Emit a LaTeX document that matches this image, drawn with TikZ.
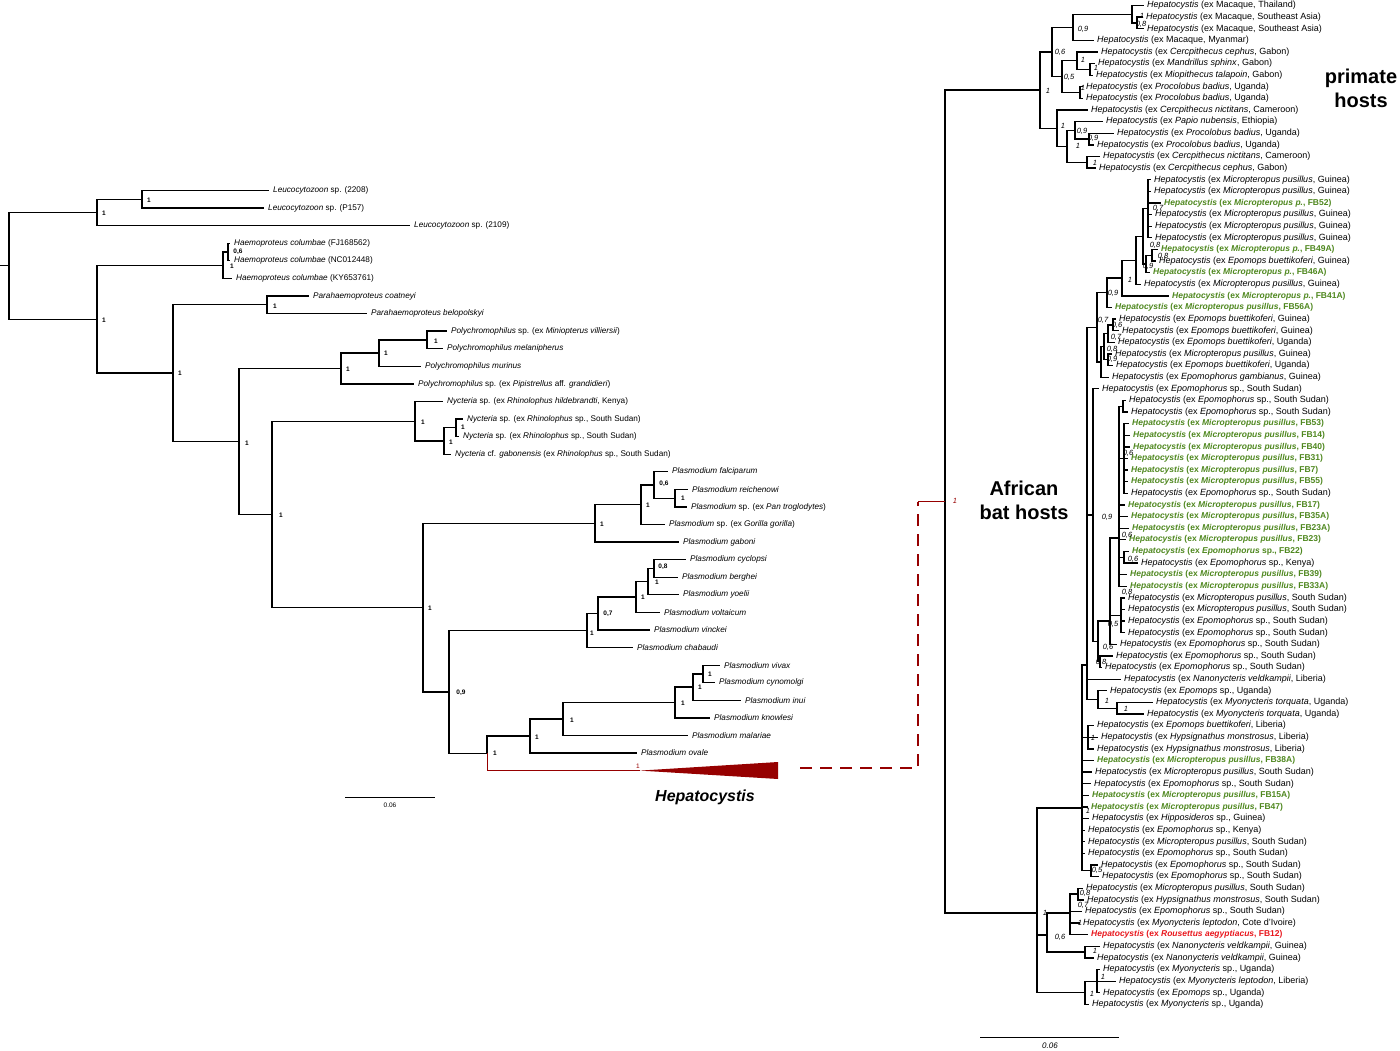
\documentclass[tikz,border=0pt]{standalone}
\usepackage{fontspec}
\setmainfont{Liberation Sans}
\usetikzlibrary{calc}
\definecolor{hepred}{RGB}{150,0,0}
\definecolor{leafn}{RGB}{0,0,0}
\definecolor{leafg}{RGB}{78,135,30}
\definecolor{leafr}{RGB}{232,22,28}
\newcommand\leaffontn{\fontsize{9}{10}\selectfont}
\newcommand\leaffontg{\fontsize{8.5}{10}\selectfont\bfseries}
\newcommand\leaffontr{\fontsize{8.5}{10}\selectfont\bfseries}
% clade: name, x, children (first ... last); y halfway between first and last child
\newcommand\clade[3]{%
  \foreach \ch [count=\k] in {#3}{\ifnum\k=1 \xdef\cfirst{\ch}\fi\xdef\clast{\ch}}%
  \path let \p1=($(\cfirst)!.5!(\clast)$) in coordinate (#1) at (#2pt,\y1);%
  \foreach \ch in {#3}{\draw[br] (#1) |- (\ch);}}
% same, with the y given
\newcommand\cladey[4]{%
  \coordinate (#1) at (#2,#3);%
  \foreach \ch in {#4}{\draw[br] (#1) |- (\ch);}}

\begin{document}
\begin{tikzpicture}[x=1pt,y=-1pt,
    br/.style={line width=1.3pt},
    lleaf/.style={anchor=west,inner xsep=4pt,inner ysep=1pt,font=\fontsize{8.2}{9}\selectfont},
    rleaf/.style={anchor=west,inner xsep=3pt,inner ysep=1pt},
    lsup/.style={inner sep=0pt,font=\fontsize{6.5}{7}\selectfont\bfseries},
    rsup/.style={inner sep=0pt,font=\fontsize{7.5}{8}\selectfont\itshape},
    big/.style={align=center,font=\fontsize{20}{24}\selectfont\bfseries},
    dlink/.style={hepred,line width=2.2pt,dash pattern=on 12pt off 8pt}]
  \useasboundingbox (0,0) rectangle (1400,1051);

  %% left tree
  \foreach \tx/\txt [count=\i from 0] in
  {
    269/{\textit{Leucocytozoon} sp. (2208)},
    264/{\textit{Leucocytozoon} sp. (P157)},
    410/{\textit{Leucocytozoon} sp. (2109)},
    230/{\textit{Haemoproteus columbae} (FJ168562)},
    230/{\textit{Haemoproteus columbae} (NC012448)},
    232/{\textit{Haemoproteus columbae} (KY653761)},
    309/{\textit{Parahaemoproteus coatneyi}},
    367/{\textit{Parahaemoproteus belopolskyi}},
    447/{\textit{Polychromophilus} sp. (ex \textit{Miniopterus villiersii})},
    443/{\textit{Polychromophilus melanipherus}},
    421/{\textit{Polychromophilus murinus}},
    414/{\textit{Polychromophilus} sp. (ex \textit{Pipistrellus} aff. \textit{grandidieri})},
    443/{\textit{Nycteria} sp. (ex \textit{Rhinolophus hildebrandti}, Kenya)},
    463/{\textit{Nycteria} sp. (ex \textit{Rhinolophus} sp., South Sudan)},
    459/{\textit{Nycteria} sp. (ex \textit{Rhinolophus} sp., South Sudan)},
    451/{\textit{Nycteria} cf. \textit{gabonensis} (ex \textit{Rhinolophus} sp., South Sudan)},
    668/{\textit{Plasmodium falciparum}},
    688/{\textit{Plasmodium reichenowi}},
    687/{\textit{Plasmodium} sp. (ex \textit{Pan troglodytes})},
    665/{\textit{Plasmodium} sp. (ex \textit{Gorilla gorilla})},
    679/{\textit{Plasmodium gaboni}},
    686/{\textit{Plasmodium cyclopsi}},
    678/{\textit{Plasmodium berghei}},
    679/{\textit{Plasmodium yoelii}},
    660/{\textit{Plasmodium voltaicum}},
    650/{\textit{Plasmodium vinckei}},
    633/{\textit{Plasmodium chabaudi}},
    720/{\textit{Plasmodium vivax}},
    715/{\textit{Plasmodium cynomolgi}},
    741/{\textit{Plasmodium inui}},
    710/{\textit{Plasmodium knowlesi}},
    688/{\textit{Plasmodium malariae}},
    637/{\textit{Plasmodium ovale}}}
  {
    \pgfmathsetmacro\yy{190.5+17.58*\i}
    \node[lleaf] (L\i) at (\tx,\yy) {\txt};
  }
  \coordinate (hep) at (640,770.6);

  \clade{la}{142}{L0,L1}
  \clade{lb}{97}{la,L2}
  \clade{hi}{228}{L3,L4}
  \clade{ho}{223}{hi,L5}
  \clade{pa}{267}{L6,L7}
  \clade{pc}{427}{L8,L9}
  \clade{pb}{379}{pc,L10}
  \clade{pd}{341}{pb,L11}
  \clade{nyc}{456}{L13,L14}
  \clade{nyb}{444}{nyc,L15}
  \clade{nya}{415}{L12,nyb}
  \clade{fb}{675}{L17,L18}
  \clade{fa}{654}{L16,fb}
  \clade{fc}{641}{fa,L19}
  \clade{fd}{595}{fc,L20}
  \clade{ra}{654}{L21,L22}
  \clade{rb}{648}{ra,L23}
  \clade{rc}{636}{rb,L24}
  \clade{rd}{598}{rc,L25}
  \clade{re}{587}{rd,L26}
  \clade{va}{703}{L27,L28}
  \clade{vb}{693}{va,L29}
  \clade{vc}{675}{vb,L30}
  \clade{vd}{563}{vc,L31}
  \clade{ve}{530}{vd,L32}
  \path let \p1=($(ve)!.5!(hep)$) in coordinate (vf) at (487pt,\y1);
  \draw[br] (vf) |- (ve);
  \draw[hepred,line width=.9pt] (vf) |- (hep);
  \clade{vg}{449}{re,vf}
  \clade{pl}{423}{fd,vg}
  \clade{nyp}{272}{nya,pl}
  \clade{bg}{239}{pd,nyp}
  \clade{hb}{173}{pa,bg}
  \clade{hc}{97}{ho,hb}
  \clade{lroot}{9}{lb,hc}
  \draw[br] (lroot) -- ++(-9,0);

  \foreach \x/\y/\t [count=\i] in
  {
    149/200/1, 104/213/1, 238/252/{0,6}, 232/266/1, 104/320/1, 275/306/1,
    180/373/1, 436/341/1, 386/353/1, 348/369/1, 247/443/1, 423/422/1,
    463/427/1, 451/442/1, 281/515/1, 664/484/{0,6}, 683/498/1, 648/505/1,
    602/524/1, 663/567/{0,8}, 657/582/1, 643/597/1, 608/614/{0,7}, 592/633/1,
    430/608/1, 461/693/{0,9}, 710/674/1, 700/687/1, 683/703/1, 572/720/1,
    537/737/1, 495/753/1}
  {
    \node[lsup] (ls\i) at (\x,\y) {\t};
  }

  % collapsed Hepatocystis
  \fill[hepred] (hep) -- (778,762) -- (778,779) -- cycle;
  \node[lsup,text=hepred,font=\fontsize{6.5}{7}\selectfont] (hs) at (638,766) {1};
  \node[font=\fontsize{16}{18}\selectfont\bfseries\itshape] (heplab) at (705,797) {Hepatocystis};

  \draw[line width=.7pt] (345,797) -- (435,797);
  \node[font=\fontsize{6.5}{7}\selectfont] (sl) at (390,805) {0.06};

  %% right tree
  \foreach \tx/\k/\host/\rest [count=\i from 0] in
  {
    1144/n/{\upshape Macaque}/{, Thailand},
    1143/n/{\upshape Macaque}/{, Southeast Asia},
    1144/n/{\upshape Macaque}/{, Southeast Asia},
    1094/n/{\upshape Macaque}/{, Myanmar},
    1098/n/Cercpithecus cephus/{, Gabon},
    1095/n/Mandrillus sphinx/{, Gabon},
    1093/n/Miopithecus talapoin/{, Gabon},
    1083/n/Procolobus badius/{, Uganda},
    1083/n/Procolobus badius/{, Uganda},
    1088/n/Cercpithecus nictitans/{, Cameroon},
    1103/n/Papio nubensis/{, Ethiopia},
    1114/n/Procolobus badius/{, Uganda},
    1094/n/Procolobus badius/{, Uganda},
    1100/n/Cercpithecus nictitans/{, Cameroon},
    1096/n/Cercpithecus cephus/{, Gabon},
    1151/n/Micropteropus pusillus/{, Guinea},
    1151/n/Micropteropus pusillus/{, Guinea},
    1161/g/Micropteropus p./{, FB52},
    1152/n/Micropteropus pusillus/{, Guinea},
    1152/n/Micropteropus pusillus/{, Guinea},
    1152/n/Micropteropus pusillus/{, Guinea},
    1158/g/Micropteropus p./{, FB49A},
    1156/n/Epomops buettikoferi/{, Guinea},
    1150/g/Micropteropus p./{, FB46A},
    1141/n/Micropteropus pusillus/{, Guinea},
    1169/g/Micropteropus p./{, FB41A},
    1112/g/Micropteropus pusillus/{, FB56A},
    1116/n/Epomops buettikoferi/{, Guinea},
    1119/n/Epomops buettikoferi/{, Guinea},
    1115/n/Epomops buettikoferi/{, Uganda},
    1112/n/Micropteropus pusillus/{, Guinea},
    1113/n/Epomops buettikoferi/{, Uganda},
    1109/n/Epomophorus gambianus/{, Guinea},
    1099/n/Epomophorus/{~sp., South Sudan},
    1126/n/Epomophorus/{~sp., South Sudan},
    1128/n/Epomophorus/{~sp., South Sudan},
    1129/g/Micropteropus pusillus/{, FB53},
    1130/g/Micropteropus pusillus/{, FB14},
    1130/g/Micropteropus pusillus/{, FB40},
    1128/g/Micropteropus pusillus/{, FB31},
    1128/g/Micropteropus pusillus/{, FB7},
    1128/g/Micropteropus pusillus/{, FB55},
    1128/n/Epomophorus/{~sp., South Sudan},
    1125/g/Micropteropus pusillus/{, FB17},
    1128/g/Micropteropus pusillus/{, FB35A},
    1129/g/Micropteropus pusillus/{, FB23A},
    1126/g/Micropteropus pusillus/{, FB23},
    1129/g/Epomophorus/{~sp., FB22},
    1138/n/Epomophorus/{~sp., Kenya},
    1127/g/Micropteropus pusillus/{, FB39},
    1127/g/Micropteropus pusillus/{, FB33A},
    1125/n/Micropteropus pusillus/{, South Sudan},
    1125/n/Micropteropus pusillus/{, South Sudan},
    1125/n/Epomophorus/{~sp., South Sudan},
    1125/n/Epomophorus/{~sp., South Sudan},
    1117/n/Epomophorus/{~sp., South Sudan},
    1113/n/Epomophorus/{~sp., South Sudan},
    1102/n/Epomophorus/{~sp., South Sudan},
    1121/n/Nanonycteris veldkampii/{, Liberia},
    1107/n/Epomops/{~sp., Uganda},
    1153/n/Myonycteris torquata/{, Uganda},
    1144/n/Myonycteris torquata/{, Uganda},
    1094/n/Epomops buettikoferi/{, Liberia},
    1098/n/Hypsignathus monstrosus/{, Liberia},
    1094/n/Hypsignathus monstrosus/{, Liberia},
    1094/g/Micropteropus pusillus/{, FB38A},
    1092/n/Micropteropus pusillus/{, South Sudan},
    1091/n/Epomophorus/{~sp., South Sudan},
    1089/g/Micropteropus pusillus/{, FB15A},
    1088/g/Micropteropus pusillus/{, FB47},
    1089/n/Hipposideros/{~sp., Guinea},
    1085/n/Epomophorus/{~sp., Kenya},
    1085/n/Micropteropus pusillus/{, South Sudan},
    1085/n/Epomophorus/{~sp., South Sudan},
    1098/n/Epomophorus/{~sp., South Sudan},
    1099/n/Epomophorus/{~sp., South Sudan},
    1083/n/Micropteropus pusillus/{, South Sudan},
    1084/n/Hypsignathus monstrosus/{, South Sudan},
    1082/n/Epomophorus/{~sp., South Sudan},
    1080/n/Myonycteris leptodon/{, Cote d'Ivoire},
    1088/r/Rousettus aegyptiacus/{, FB12},
    1100/n/Nanonycteris veldkampii/{, Guinea},
    1094/n/Nanonycteris veldkampii/{, Guinea},
    1100/n/Myonycteris/{~sp., Uganda},
    1116/n/Myonycteris leptodon/{, Liberia},
    1100/n/Epomops/{~sp., Uganda},
    1089/n/Myonycteris/{~sp., Uganda}}
  {
    \pgfmathsetmacro\yy{5.5+11.615*\i}
    \node[rleaf,text=leaf\k,font=\csname leaffont\k\endcsname] (r\i) at (\tx,\yy)
      {\textit{Hepatocystis} (ex \textit{\host}\rest)};
  }

  % primate hosts
  \clade{se2}{1137}{r1,r2}
  \clade{se1}{1132}{r0,se2}
  \clade{mq}{1073}{se1,r3}
  \clade{mm}{1090}{r5,r6}
  \clade{ca}{1077}{r4,mm}
  \clade{pk}{1080}{r7,r8}
  \clade{cb}{1062}{ca,pk}
  \clade{ppa}{1052}{mq,cb}
  \clade{qa}{1089}{r11,r12}
  \clade{qb}{1075}{r10,qa}
  \clade{qd}{1087}{r13,r14}
  \clade{qc}{1067}{qb,qd}
  \clade{ppb}{1057}{r9,qc}
  \clade{ppr}{1040}{ppa,ppb}
  % bat hosts
  \clade{ka}{1148}{r15,r16,r17,r18,r19,r20}
  \clade{kc}{1152}{r21,r22}
  \clade{kd}{1146}{kc,r23}
  \clade{kb}{1143}{ka,kd}
  \clade{ke}{1136}{kb,r24}
  \clade{kf}{1122}{ke,r25}
  \clade{kg}{1107}{kf,r26}
  \clade{ea}{1113}{r27,r28}
  \clade{eb}{1108}{ea,r29}
  \clade{ec}{1108}{r30,r31}
  \clade{ed}{1104}{eb,ec}
  \clade{ee}{1101}{ed,r32}
  \clade{fg}{1097}{kg,ee}
  \clade{sa}{1123}{r34,r35}
  \clade{sb}{1124}{r36,r37,r38,r39,r40,r41,r42}
  \clade{sd}{1124}{r47,r48}
  \cladey{sf}{1119}{538}{sa,sb,r43,r44,r45,r46,sd,r49,r50}
  \clade{sh}{1121}{r51,r52,r53,r54}
  \cladey{si}{1110}{621}{sf,sh,r55}
  \clade{sk}{1100}{r56,r57}
  \clade{sj}{1098}{si,sk}
  \clade{nn}{1093}{r33,sj}
  \clade{ta}{1117}{r60,r61}
  \clade{tb}{1098}{r59,ta}
  \cladey{gg}{1087}{665}{fg,nn,r58,tb}
  \clade{vv}{1088}{r62,r63,r64}
  \clade{nq}{1091}{r74,r75}
  \cladey{ba}{1082}{808}{gg,vv,r65,r66,r67,r68,r69,r70,r71,r72,r73,nq}
  \clade{ua}{1078}{r76,r77}
  \cladey{ub}{1070}{913}{ua,r78,r79,r80}
  \clade{za}{1085}{r81,r82}
  \cladey{bm}{1047}{935}{ub,za}
  \clade{zb}{1097}{r83,r84,r85}
  \clade{zc}{1085}{zb,r86}
  \cladey{bb}{1037}{913}{ba,bm,zc}
  \clade{rr}{945}{ppr,bb}

  \foreach \x/\y/\t [count=\i] in
  {
    1142/16/1, 1141/24/{0,8}, 1083/29/{0,9}, 1060/52/{0,6}, 1083/60/1, 1096/68/1,
    1069/77/{0,5}, 1083/88/1, 1048/91/1, 1063/126/1, 1082/131/{0,9}, 1093/138/{0,9},
    1078/146/1, 1095/163/1, 1158/208/{0,7}, 1155/245/{0,8}, 1163/256/{0,8},
    1148/266/{0,9}, 1130/280/1, 1113/293/{0,9}, 1103/320/{0,7}, 1117/325/{0,6},
    1116/337/{0,7}, 1112/349/{0,8}, 1112/359/{0,9}, 1128/453/{0,6}, 1107/517/{0,9},
    1127/535/{0,6}, 1133/559/{0,6}, 1127/592/{0,8}, 1113/624/{0,5}, 1108/647/{0,6},
    1101/662/{0,8}, 1107/701/1, 1126/709/1, 1093/738/1, 1088/811/1, 1097/870/{0,5},
    1085/893/{0,8}, 1083/905/{0,7}, 1080/923/1, 1045/913/1, 1060/937/{0,6},
    1095/951/1, 1103/977/1, 1092/994/1}
  {
    \node[rsup] (rs\i) at (\x,\y) {\t};
  }
  \node[rsup,text=hepred] (rrs) at (955,501) {1};

  % link from the collapsed clade to the bat tree
  \coordinate (hepend) at (800,768);
  \path let \p1=(rr) in coordinate (rstem) at (918pt,\y1);
  \draw[dlink] (hepend) -| (rstem);
  \draw[hepred,line width=.9pt] (rstem) -- (rr);

  \node[big] (afr) at (1024,500) {African\\bat hosts};
  \node[big] (prim) at (1361,88) {primate\\hosts};

  \draw[line width=.7pt] (980,1037) -- (1119,1037);
  \node[font=\fontsize{8}{9}\selectfont\itshape] (sr) at (1050,1046) {0.06};
\end{tikzpicture}
\end{document}
